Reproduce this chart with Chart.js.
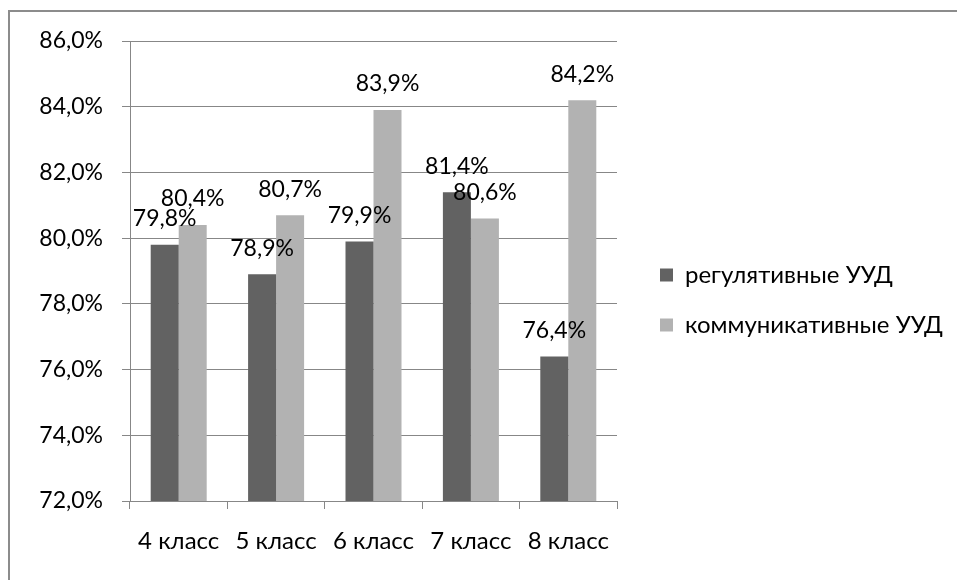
<!DOCTYPE html>
<html>
<head>
<meta charset="utf-8">
<script src="https://cdn.jsdelivr.net/npm/chart.js@4.4.0/dist/chart.umd.min.js"></script>
<style>
  html, body { margin: 0; padding: 0; background: #fff; overflow: hidden; }
  #frame { position: absolute; left: 8px; top: 10px; width: 2000px; height: 2000px;
           border-left: 2px solid #8c8c8c; border-top: 2px solid #8c8c8c; }
  #grafico { position: absolute; left: 0; top: 0; }
</style>
</head>
<body>
<div id="frame"></div>
<canvas id="grafico" width="957" height="580"></canvas>
<script>
const classes = ["4 класс", "5 класс", "6 класс", "7 класс", "8 класс"];
const regulativnye = [79.8, 78.9, 79.9, 81.4, 76.4];
const kommunikativnye = [80.4, 80.7, 83.9, 80.6, 84.2];
const seriesNames = ["регулятивные УУД", "коммуникативные УУД"];
const yMin = 72, yMax = 86, yStep = 2;

const fmt = v => v.toFixed(1).replace(".", ",") + "%";
const FONT = "Lato";

// подписи значений над столбиками
const labelsPlugin = {
  id: "valueLabels",
  afterDatasetsDraw(chart) {
    const ctx = chart.ctx;
    ctx.save();
    ctx.font = "23px " + FONT;
    ctx.fillStyle = "#000";
    ctx.textAlign = "center";
    ctx.textBaseline = "middle";
    chart.data.datasets.forEach((ds, i) => {
      chart.getDatasetMeta(i).data.forEach((bar, j) => {
        ctx.fillText(fmt(ds.data[j]), bar.x, bar.y - 26);
      });
    });
    ctx.restore();
  }
};

// легенда справа шире, чем разрешает layout (vBoxMaxWidth), поэтому ширину задаём сами
const LEGEND_W = 323;
const legendWidthPlugin = {
  id: "legendWidth",
  afterInit(chart) {
    const lg = chart.legend;
    const fit = lg.fit;
    lg.fit = function () {
      fit.call(this);
      this.width = LEGEND_W;
    };
  }
};

const chart = new Chart(document.getElementById("grafico").getContext("2d"), {
  type: "bar",
  data: {
    labels: classes,
    datasets: [
      {
        label: seriesNames[0],
        data: regulativnye,
        backgroundColor: "#626262",
        categoryPercentage: 0.575,
        barPercentage: 1.0,
      },
      {
        label: seriesNames[1],
        data: kommunikativnye,
        backgroundColor: "#b2b2b2",
        categoryPercentage: 0.575,
        barPercentage: 1.0,
      },
    ],
  },
  options: {
    responsive: false,
    animation: false,
    layout: { padding: { left: 0, top: 41, bottom: 0, right: 0 } },
    plugins: {
      tooltip: { enabled: false },
      legend: {
        position: "right",
        fullSize: false,
        align: "center",
        title: { display: true, text: "", padding: { top: 22, bottom: 21.6 } },
        labels: {
          font: { family: FONT, size: 24 },
          color: "#000",
          boxWidth: 13,
          boxHeight: 13,
          padding: 26,
        },
      },
    },
    scales: {
      x: {
        grid: { offset: true, drawOnChartArea: false, drawTicks: true, tickLength: 8, color: "#878787" },
        border: { display: true, color: "#878787" },
        ticks: { font: { family: FONT, size: 24 }, color: "#000", padding: 18, maxRotation: 0 },
        afterFit(scale) { scale.height = 79; },
      },
      y: {
        min: yMin,
        max: yMax,
        ticks: {
          stepSize: yStep,
          font: { family: FONT, size: 23 },
          color: "#000",
          padding: 19,
          callback: v => fmt(v),
        },
        grid: { color: "#878787", tickLength: 8 },
        border: { display: true, color: "#878787" },
        afterFit(scale) { scale.width = 130; },
      },
      spacer: {
        type: "linear",
        position: "right",
        display: true,
        grid: { display: false },
        border: { display: false },
        ticks: { display: false },
        afterFit(scale) { scale.width = 17; },
      },
    },
  },
  plugins: [labelsPlugin, legendWidthPlugin],
});
</script>
</body>
</html>
